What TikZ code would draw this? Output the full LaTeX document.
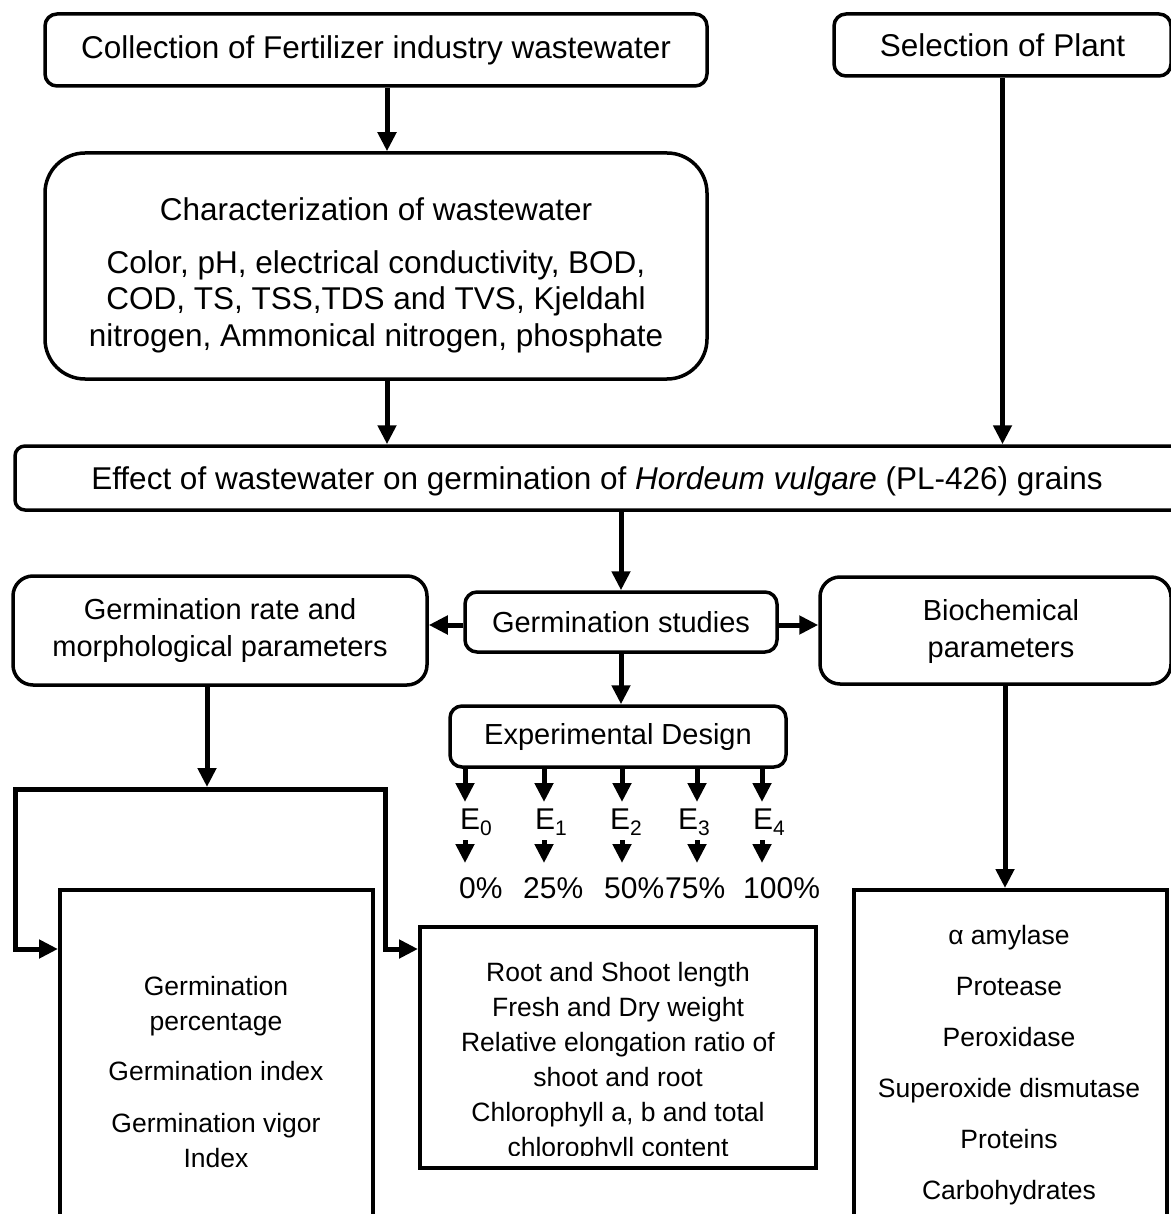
\documentclass[tikz,border=0pt]{standalone}
\usepackage{fontspec}
\setmainfont{Liberation Sans}
\usetikzlibrary{arrows.meta}
\begin{document}
\begin{tikzpicture}[x=1pt,y=-1pt,
  box/.style={draw, line width=3.5pt, inner sep=0pt, align=center},
  rbox/.style={box, rounded corners=#1},
  bbox/.style={draw, line width=4pt, inner sep=0pt},
  fbig/.style={font={\fontsize{31.5}{36.5}\selectfont}},
  fmid/.style={font={\fontsize{29}{37}\selectfont}},
  fsmall/.style={font={\fontsize{26.5}{35}\selectfont}},
  fe/.style={font={\fontsize{30}{36}\selectfont}},
  txt/.style={align=center, inner sep=0pt},
  arr/.style={line width=5pt, -{Triangle[width=18pt,length=19pt]}},
  barr/.style={line width=5pt, line join=miter, {Triangle[width=18pt,length=19pt]}-{Triangle[width=18pt,length=19pt]}}
]
\useasboundingbox (0,0) rectangle (1170,1214);

% top row
\node[rbox=12pt, fbig, minimum width=662pt, minimum height=72pt] (coll) at (376,50) {Collection of Fertilizer industry wastewater};
\node[rbox=12pt, fbig, minimum width=337pt, minimum height=62pt] (sel) at (1002.5,45) {Selection of Plant};

% characterization
\node[rbox=40pt, minimum width=662pt, minimum height=226pt] (char) at (376,266) {};
\node[fbig, txt] (chartxt) at (376,275) {Characterization of wastewater\\[16.5pt]Color, pH, electrical conductivity, BOD,\\COD, TS, TSS,TDS and TVS, Kjeldahl\\nitrogen, Ammonical nitrogen, phosphate};

% effect
\node[rbox=10pt, minimum width=1170pt, minimum height=64pt] (eff) at (600,478) {};
\node[fbig, txt] (efftxt) at (597,481) {Effect of wastewater on germination of \textit{Hordeum vulgare} (PL-426) grains};

% germination row
\node[rbox=12pt, fmid, minimum width=312pt, minimum height=60pt] (gs) at (621,622) {Germination studies};
\node[rbox=20pt, fmid, minimum width=414pt, minimum height=109pt] (gr) at (220,630.5) {Germination rate and\\morphological parameters};
\node[rbox=20pt, minimum width=351pt, minimum height=107pt] (bio) at (995.5,630.5) {};
\node[fmid, txt] (biotxt) at (1001,631) {Biochemical\\parameters};

\node[rbox=12pt, fmid, minimum width=336pt, minimum height=61pt] (ed) at (618,736.5) {Experimental Design};

% bottom boxes
\node[bbox, minimum width=313pt, minimum height=350pt] (lb) at (216.5,1065) {};
\node[bbox, minimum width=396pt, minimum height=241pt] (mb) at (618,1047.5) {};
\node[bbox, minimum width=313pt, minimum height=350pt] (rb) at (1010.5,1065) {};

\node[fsmall, txt] (lbtxt) at (216,1072) {Germination\\percentage\\[15pt]Germination index\\[17pt]Germination vigor\\Index};
\begin{scope}
\clip (422,929) rectangle (814,1155);
\node[fsmall, txt] (mbtxt) at (618,1062) {Root and Shoot length\\Fresh and Dry weight\\Relative elongation ratio of\\shoot and root\\Chlorophyll a, b and total\\chlorophyll content};
\end{scope}
\node[font={\fontsize{26.5}{51}\selectfont}, txt] (rbtxt) at (1009,1065) {α amylase\\Protease\\Peroxidase\\Superoxide dismutase\\Proteins\\Carbohydrates};

% experimental design branches
\foreach \n/\x/\ex/\px/\p in {0/465/460/459/0,1/544/535/523/25,2/622/610/604/50,3/697/678/665/75,4/762/753/743/100}{
  \node[fe, inner sep=0pt, anchor=west] (E\n) at (\ex,822) {E\textsubscript{\n}};
  \node[fe, inner sep=0pt, anchor=west] (P\n) at (\px,888) {\p\%};
  \coordinate (t\n) at (\x,802);
  \coordinate (u\n) at (\x,840);
  \coordinate (v\n) at (\x,863);
  \draw[arr] (ed.south -| t\n) -- (t\n);
  \draw[arr] (u\n) -- (v\n);
}

% connectors
\draw[arr] ([xshift=11pt]coll.south) -- ([xshift=11pt]char.north);
\draw[arr] ([xshift=11pt]char.south) -- ([xshift=11pt]char.south |- eff.north);
\draw[arr] (sel.south) -- (sel.south |- eff.north);
\draw[arr] (gs.north |- eff.south) -- (gs.north);
\draw[arr] ([yshift=-3pt]gs.west) -- ([yshift=-3pt]gs.west -| gr.east);
\draw[arr] ([yshift=-3pt]gs.east) -- ([yshift=-3pt]gs.east -| bio.west);
\draw[arr] (gs.south) -- (ed.north -| gs.south);

\coordinate (bar) at (207,787);
\draw[arr] (gr.south -| bar) -- (bar);
\coordinate (bl) at (15,789);
\coordinate (br) at (385,789);
\coordinate (bl2) at (15,949);
\coordinate (br2) at (385,949);
\draw[barr] (lb.west |- bl2) -- (bl2) -- (bl) -- (br) -- (br2) -- (mb.west |- br2);

\coordinate (rbin) at (1005,888);
\draw[arr] (bio.south -| rbin) -- (rbin);
\end{tikzpicture}
\end{document}
